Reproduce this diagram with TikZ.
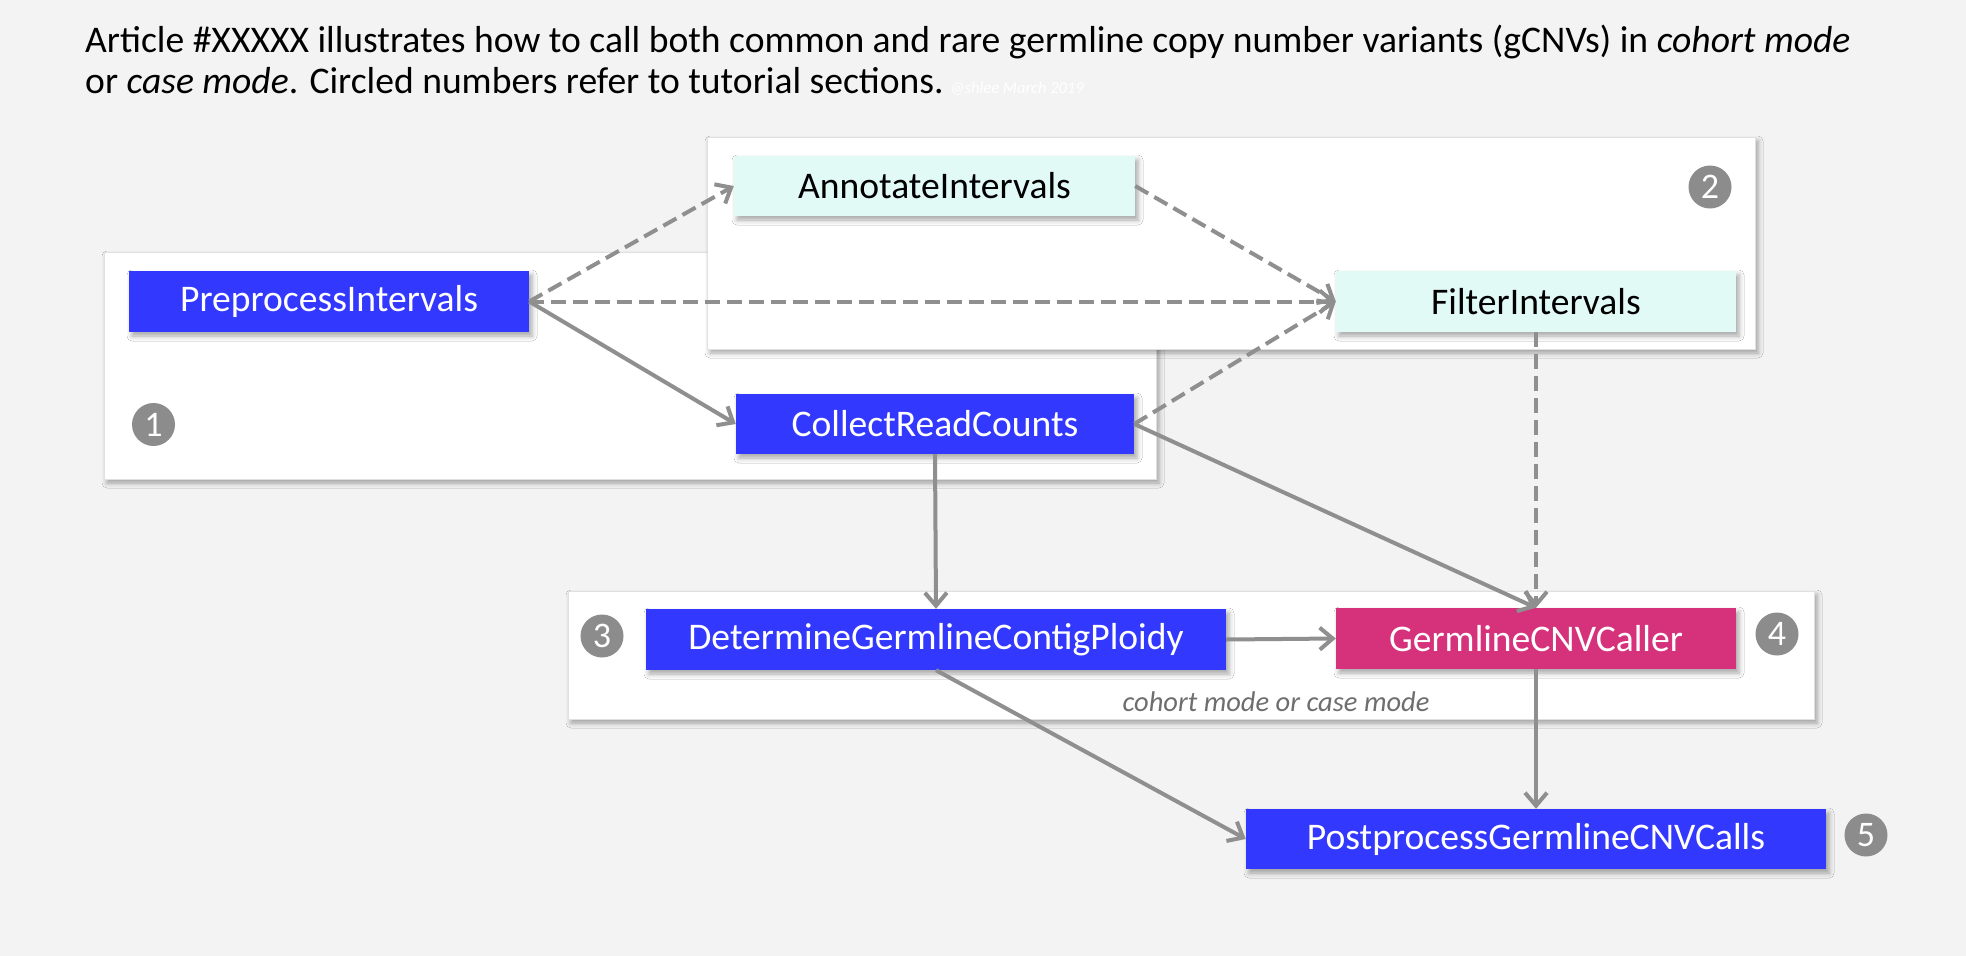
\documentclass[tikz,border=0pt]{standalone}
\usepackage{fontspec}
\setmainfont{Carlito}
\usetikzlibrary{arrows.meta,shadows.blur}
\definecolor{bgcol}{RGB}{243,243,243}
\definecolor{bluenode}{RGB}{51,56,255}
\definecolor{cyannode}{RGB}{226,250,245}
\definecolor{magnode}{RGB}{214,50,124}
\definecolor{circgray}{RGB}{140,140,140}
\definecolor{arrgray}{RGB}{143,143,143}
\definecolor{labgray}{RGB}{110,110,110}
\begin{document}
\begin{tikzpicture}[x=1pt,y=-1pt,
  shad/.style={blur shadow={shadow xshift=3pt,shadow yshift=-4pt,shadow blur radius=5pt,shadow opacity=35}},
  groupbox/.style={fill=white,draw=black!12,line width=1pt,shad},
  procbox/.style={rectangle,inner sep=0pt,minimum height=61pt,shad,font=\fontsize{37.6}{42}\selectfont},
  bluebox/.style={procbox,fill=bluenode,text=white},
  cyanbox/.style={procbox,fill=cyannode,text=black},
  magbox/.style={procbox,fill=magnode,text=white},
  numcirc/.style={circle,fill=circgray,text=white,inner sep=0pt,minimum size=43pt,font=\fontsize{36}{38}\selectfont},
  conn/.style={draw=arrgray,line width=4pt,-{Straight Barb[length=13pt,width=22pt,line width=4pt]}},
  dconn/.style={conn,dash pattern=on 15pt off 7pt},
  titletext/.style={anchor=base west,inner sep=0pt,font=\fontsize{37.6}{42}\selectfont}
]
\useasboundingbox (0,0) rectangle (1966,956);
\fill[bgcol] (0,0) rectangle (1966,956);

% title
\node[titletext] (t1) at (85,52) {Article \#XXXXX illustrates how to call both common and rare germline copy number variants (gCNVs) in \textit{cohort mode}};
\node[titletext] (t2) at (85,93) {or \textit{case mode}. Circled numbers refer to tutorial sections.\,{\fontsize{16.5}{18}\selectfont\itshape\color{white}@shlee March 2019}};

% groups
\path[groupbox] (104,252) rectangle (1156,479);
\path[groupbox] (707,137) rectangle (1755,349);
\path[groupbox] (568,591) rectangle (1814,719);

% nodes
\node[bluebox,minimum width=400pt] (pre) at (329,301.5) {PreprocessIntervals};
\node[cyanbox,minimum width=401pt,minimum height=60pt] (ann) at (934.5,186) {AnnotateIntervals};
\node[cyanbox,minimum width=400pt] (fil) at (1536,301.5) {FilterIntervals};
\node[bluebox,minimum width=398pt,minimum height=60pt] (crc) at (935,424) {CollectReadCounts};
\node[bluebox,minimum width=580pt] (dgcp) at (936,639.5) {DetermineGermlineContigPloidy};
\node[magbox,minimum width=400pt] (gcnv) at (1536,638.5) {GermlineCNVCaller};
\node[bluebox,minimum width=580pt,minimum height=60pt] (post) at (1536,839) {PostprocessGermlineCNVCalls};

\node[anchor=base,inner sep=0pt,text=labgray,font=\fontsize{28.5}{30}\selectfont\itshape] (mode) at (1276,711) {cohort mode or case mode};

% circled numbers
\node[numcirc] (c1) at (153.5,424.5) {1};
\node[numcirc] (c2) at (1710,187) {2};
\node[numcirc] (c3) at (602,636) {3};
\node[numcirc] (c4) at (1777,634) {4};
\node[numcirc] (c5) at (1866,835) {5};

% connectors
\draw[dconn] (pre.east) -- (ann.west);
\draw[dconn] (pre.east) -- (fil.west);
\draw[dconn] (ann.east) -- (fil.west);
\draw[dconn] (crc.east) -- (fil.west);
\draw[conn] (pre.east) -- (crc.west);
\draw[conn] (crc.south) -- (dgcp.north);
\draw[conn] (crc.east) -- (gcnv.north);
\draw[dconn] (fil.south) -- (gcnv.north);
\draw[conn] (dgcp.east) -- (gcnv.west);
\draw[conn] (dgcp.south) -- (post.west);
\draw[conn] (gcnv.south) -- (post.north);
\end{tikzpicture}
\end{document}
